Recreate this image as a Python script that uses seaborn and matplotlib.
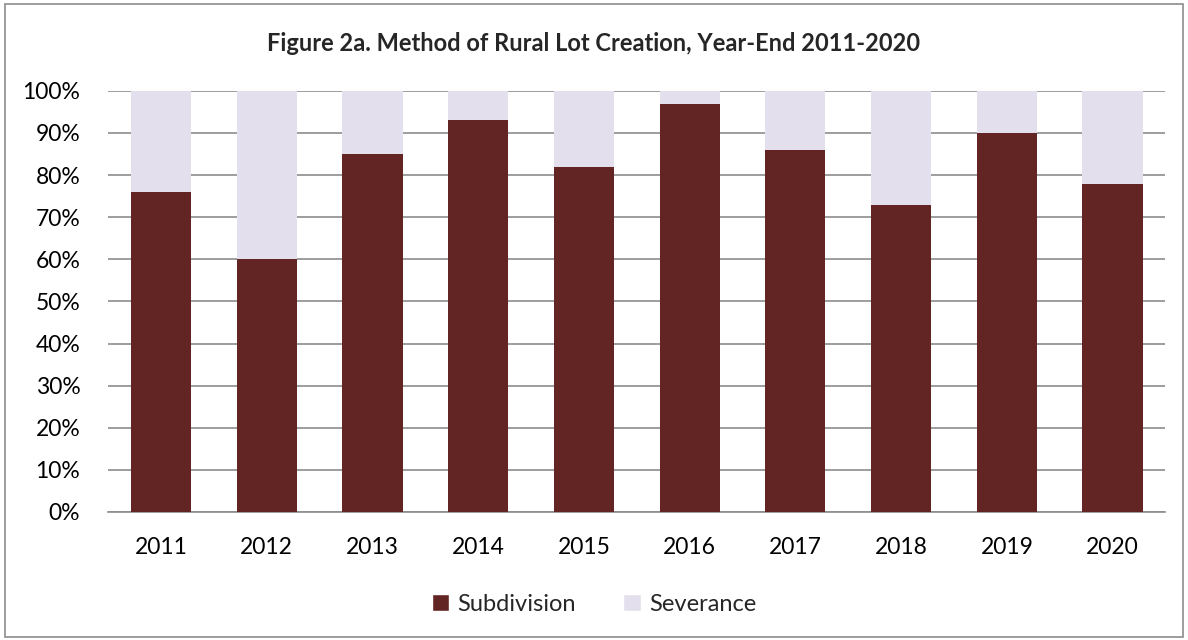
import matplotlib
matplotlib.use("Agg")
import matplotlib.pyplot as plt
from matplotlib.patches import Rectangle, Patch
from matplotlib.ticker import PercentFormatter
import seaborn as sns
import pandas as pd

# data
years = ["2011", "2012", "2013", "2014", "2015", "2016", "2017", "2018", "2019", "2020"]
subdivision = [76, 60, 85, 93, 82, 97, 86, 73, 90, 78]
severance = [100 - v for v in subdivision]

sub_color = "#632523"
sev_color = "#E4DFEC"
grid_color = "#8C8C8C"

sns.set_theme(style="white")
plt.rcParams["font.family"] = ["Lato", "DejaVu Sans"]

df = pd.DataFrame({"year": years, "Subdivision": subdivision, "Severance": severance})
df["total"] = df["Subdivision"] + df["Severance"]

fig = plt.figure(figsize=(11.88, 6.4), dpi=100)
ax = fig.add_axes([0.091, 0.2, 0.89, 0.658])

# stacked bars: total first (severance colour), subdivision drawn over it
sns.barplot(data=df, x="year", y="total", color=sev_color, width=0.57,
            saturation=1, linewidth=0, ax=ax, zorder=2)
sns.barplot(data=df, x="year", y="Subdivision", color=sub_color, width=0.57,
            saturation=1, linewidth=0, ax=ax, zorder=3)

ax.set_ylim(0, 100)
ax.set_yticks(range(0, 101, 10))
ax.yaxis.set_major_formatter(PercentFormatter(decimals=0))
ax.yaxis.grid(True, color=grid_color, linewidth=1.2, zorder=0)
ax.set_axisbelow(True)
for side in ["top", "right", "left"]:
    ax.spines[side].set_visible(False)
ax.spines["bottom"].set_color(grid_color)
ax.spines["bottom"].set_linewidth(1.2)
ax.tick_params(axis="both", length=0, labelsize=16.5, colors="#000000")
ax.tick_params(axis="x", pad=18)
ax.tick_params(axis="y", pad=20)
ax.set_xlabel("")
ax.set_ylabel("")
ax.set_xlim(-0.5, len(years) - 0.5)

fig.text(0.5, 0.932, "Figure 2a. Method of Rural Lot Creation, Year-End 2011-2020",
         ha="center", va="center", fontsize=17, fontweight="bold")

handles = [Patch(facecolor=sub_color, label="Subdivision"),
           Patch(facecolor=sev_color, label="Severance")]
fig.legend(handles=handles, loc="center", bbox_to_anchor=(0.5, 0.056), ncol=2,
           frameon=False, fontsize=17, handlelength=0.75, handleheight=0.75,
           handletextpad=0.35, columnspacing=2.0)

fig.patches.append(Rectangle((0.004, 0.004), 0.992, 0.99, transform=fig.transFigure,
                             fill=False, edgecolor="#8C8C8C", linewidth=1.2))

fig.savefig("out.png", dpi=100)
